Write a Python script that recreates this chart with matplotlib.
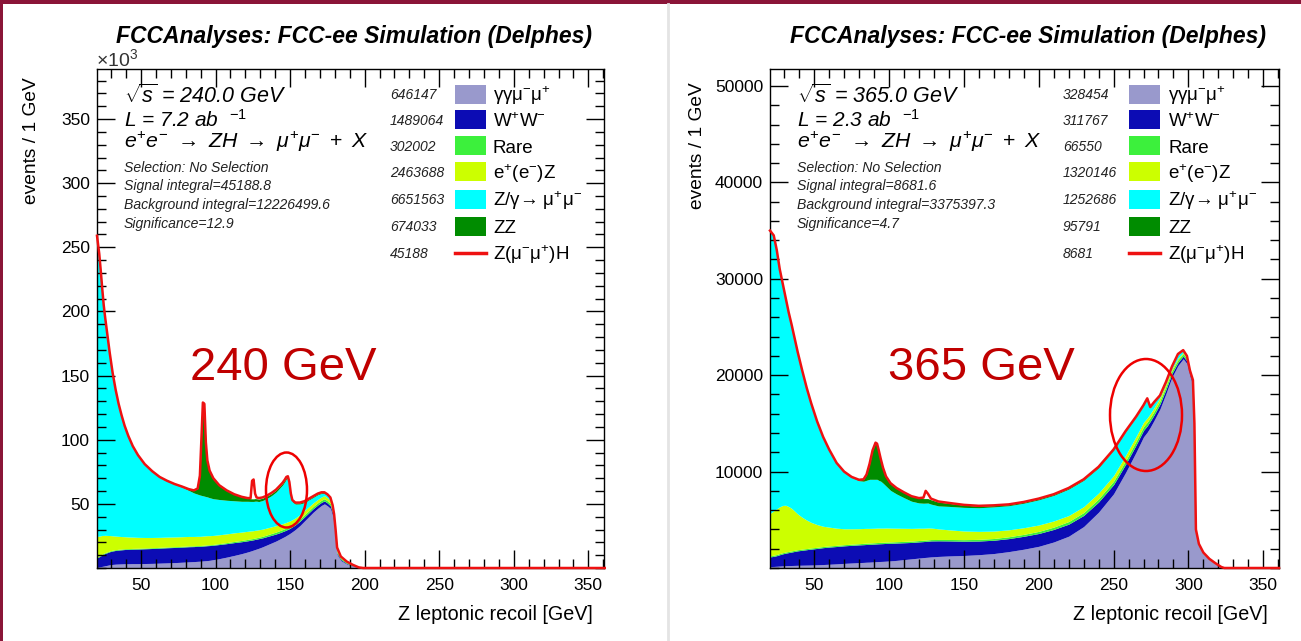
import numpy as np
import matplotlib
matplotlib.use("Agg")
import matplotlib.pyplot as plt
from matplotlib.patches import Rectangle, Ellipse
from matplotlib.lines import Line2D
from matplotlib.ticker import MultipleLocator

plt.rcParams['font.family'] = ['Liberation Sans', 'DejaVu Sans']
plt.rcParams['mathtext.fontset'] = 'custom'
plt.rcParams['mathtext.rm'] = 'Liberation Sans'
plt.rcParams['mathtext.it'] = 'Liberation Sans:italic'
plt.rcParams['mathtext.bf'] = 'Liberation Sans:bold'

W, H = 1301, 641

# ---------------- 240 GeV (events per GeV, in thousands) ----------------
x_240 = [20.5, 22, 23, 24, 25, 26, 27, 29, 31, 33, 35, 37, 39, 41.5, 44.5, 48, 52.5, 57.5, 62.5, 67.5,
         72.5, 77.5, 82, 85.5, 88, 89.5, 90.5, 91.5, 92.5, 93.5, 94.5, 96, 98.5, 102.5, 107.5, 112.5, 117.5,
         121.5, 123.5, 124.5, 125.5, 126.5, 127.5, 129, 131.5, 134.5, 137.5, 140.5, 143, 145, 146.5, 147.5,
         148.5, 149.5, 150.5, 151.5, 153.5, 156.5, 159.5, 162.5, 165.5, 168.5, 171, 173, 175, 177, 178.5,
         179.5, 180.5, 181.5, 184, 188, 192, 196, 199, 361]
gg_240 = [0.5, 0.8, 1.0, 1.3, 1.5, 1.8, 2.0, 2.5, 2.8, 3.0, 3.1, 3.2, 3.3, 3.3, 3.4, 3.4, 3.5, 3.6, 3.8, 4.0,
          4.2, 4.5, 4.8, 5.0, 5.2, 5.3, 5.4, 5.5, 5.6, 5.7, 5.8, 6.0, 6.5, 7.3, 8.5, 9.8, 11.2,
          12.5, 13.2, 13.6, 14.0, 14.4, 14.8, 15.4, 16.5, 18, 19.5, 21, 22.5, 23.7, 24.6, 25.3,
          26, 26.7, 27.5, 28.3, 30, 33, 36.5, 40, 43.5, 46.5, 48.8, 50, 48.5, 46.5, 41,
          34, 23, 10.5, 5.8, 3.0, 1.5, 0.2, 0, 0]
ww_240 = [7.5, 8, 8.5, 9, 9.3, 9.6, 9.8, 10.2, 10.5, 10.7, 10.9, 11, 11.1, 11.2, 11.3, 11.4, 11.5, 11.6, 11.7, 11.8,
          11.8, 11.8, 11.8, 11.7, 11.7, 11.6, 11.6, 11.6, 11.6, 11.6, 11.6, 11.5, 11.3, 11, 10.5, 10, 9.3,
          8.7, 8.4, 8.2, 8.0, 7.9, 7.7, 7.5, 7.0, 6.5, 6.0, 5.5, 5.0, 4.7, 4.5, 4.3,
          4.2, 4.0, 3.9, 3.8, 3.6, 3.4, 3.2, 3.0, 2.8, 2.6, 2.4, 2.3, 2.2, 2.0, 1.9,
          1.8, 1.5, 1.0, 0.8, 0.5, 0.3, 0.1, 0, 0]
rare_240 = [0.6] * 33 + [0.7, 0.8, 0.9, 1.0,
            1.1, 1.1, 1.1, 1.1, 1.1, 1.1, 1.1, 1.2, 1.3, 1.4, 1.5, 1.6, 1.6, 1.6, 1.6,
            1.6, 1.6, 1.6, 1.6, 1.6, 1.7, 1.7, 1.7, 1.7, 1.7, 1.7, 1.7, 1.7, 1.7, 1.6,
            1.5, 1.4, 1.2, 1.0, 0.7, 0.4, 0.1, 0, 0]
eez_240 = [16, 15.5, 15, 14.5, 14, 13.5, 13, 12, 11.2, 10.6, 10.1, 9.7, 9.4, 9.1, 8.8, 8.5, 8.2, 8.0, 7.8, 7.7,
           7.6, 7.5, 7.4, 7.3, 7.2, 7.2, 7.2, 7.2, 7.2, 7.2, 7.2, 7.1, 7.0, 6.9, 6.8, 6.7, 6.5,
           6.3, 6.2, 6.1, 6.0, 6.0, 5.9, 5.8, 5.6, 5.4, 5.2, 5.0, 4.8, 4.6, 4.5, 4.4,
           4.3, 4.2, 4.1, 4.0, 3.8, 3.5, 3.2, 3.0, 2.8, 2.6, 2.5, 2.4, 2.3, 2.2, 2.1,
           2.0, 1.8, 1.5, 1.0, 0.6, 0.3, 0.1, 0, 0]
zg_240 = [234.1, 219.8, 206.6, 192.3, 179.3, 169.2, 160.3, 142.4, 126.6, 113.8, 103, 94.2, 86.3, 78.5, 70.6,
          63.8, 56.9, 51.4, 46.8, 43.6, 41.0, 38.6, 35.9, 33.9, 32.8, 32.2, 31.8, 31.4, 31.0, 30.6, 30.2,
          29.6, 28.6, 27.5, 26.2, 25, 24, 23.4, 23.0, 22.9, 22.8, 22.7, 22.6, 22.0, 22.3, 23.1, 24.3,
          26.1, 28.3, 30.2, 32.2, 33.8, 33.9, 29, 19.5, 14, 10.8, 8.3, 6.3, 5.3, 4.2, 3.7, 2.7,
          1.7, 1.9, 1.7, 1.6, 1.9, 1.6, 1.3, 0.1, 0.1, 0, 0, 0, 0]
zz_240 = [0.3] * 21 + [0.5, 1.0, 2.0, 4.5, 15.1, 43.4, 72.7, 72, 42.3, 28.6, 21.2, 16,
          11.1, 7.7, 5.1, 3.5, 2.5, 2.1, 2.0, 2.0, 2.0, 1.9, 1.9, 1.8, 1.7, 1.6, 1.5, 1.4, 1.3,
          1.2, 1.2, 1.1, 1.1, 1.0, 1.0, 0.9, 0.8, 0.8, 0.7, 0.7, 0.6, 0.6, 0.6, 0.6, 0.6,
          0.5, 0.5, 0.4, 0.3, 0.2, 0.1, 0, 0, 0, 0]
zh_240 = [0] * 38 + [0.5, 14.1, 15.1, 3.9, 1.0, 0.8, 0.6, 0.5, 0.5, 0.4, 0.4, 0.4, 0.4, 0.4, 0.4, 0.4,
          0.4] + [0.3] * 14 + [0.2, 0.1, 0, 0, 0, 0, 0]

# ---------------- 365 GeV (events per GeV) ----------------
x_365 = [20.5, 23, 25, 27, 29, 31, 33, 35, 37, 39, 42, 45, 48, 52, 56, 60, 65, 70, 75, 80,
         83, 85, 87, 89, 91, 92, 93, 94.5, 96, 98, 101, 105, 110, 115, 120, 123, 124.5, 126, 128, 133,
         140, 150, 160, 170, 180, 190, 200, 210, 220, 230, 240, 250, 258, 265, 270, 272.5, 274.5, 277, 281, 285,
         289, 293, 296.5, 299, 301, 303, 304, 305, 307, 310, 314, 318, 322, 324, 360.5]
gg_365 = [150, 160, 180, 200, 220, 240, 250, 260, 270, 280, 290, 300, 310, 330, 360, 390, 430, 480, 520, 560,
          580, 600, 610, 630, 650, 660, 670, 680, 690, 710, 740, 790, 870, 950, 1030, 1080, 1100, 1120, 1150, 1200,
          1250, 1300, 1380, 1500, 1700, 1950, 2250, 2700, 3300, 4300, 5800, 7700, 9900, 12000, 13600, 14100, 14600,
          15300, 16500, 18100, 19800, 21000, 21700, 21200, 19900, 18900, 14550, 3700, 2300, 1450,
          850, 420, 80, 0, 0]
ww_365 = [1000, 1050, 1100, 1180, 1250, 1300, 1350, 1400, 1450, 1500, 1550, 1600, 1650, 1700, 1750, 1780, 1800,
          1820, 1830, 1840, 1840, 1840, 1840, 1840, 1840, 1840, 1840, 1840, 1840, 1840, 1820, 1800, 1750, 1700,
          1680, 1660, 1660, 1660, 1660, 1620, 1560, 1480, 1420, 1380, 1350, 1340, 1330, 1300, 1250, 1150,
          1050, 950, 850, 750, 680, 650, 620, 560, 500, 430, 370, 320, 280, 250, 230, 210, 160, 40, 30, 20,
          10, 5, 0, 0, 0]
rare_365 = [100] + [120] * 19 + [140] * 20 + [150, 160, 170, 180, 190, 200, 220, 240, 270, 300,
            330, 360, 380, 390, 390, 390, 380, 370, 350, 330, 300, 280, 260, 240, 220, 200, 170, 100, 80, 60,
            40, 25, 10, 0, 0]
eez_365 = [4400, 4600, 4750, 4850, 4900, 4850, 4650, 4400, 4050, 3700, 3300, 2950, 2650, 2350, 2100, 1950, 1780,
           1650, 1600, 1560, 1540, 1530, 1520, 1510, 1500, 1500, 1490, 1480, 1470, 1460, 1440, 1400, 1360, 1320,
           1280, 1250, 1240, 1230, 1200, 1100, 1000, 900, 830, 770, 720, 690, 660, 640, 620, 610,
           600, 580, 550, 500, 450, 430, 410, 380, 330, 280, 220, 170, 130, 110, 100, 90, 70, 40, 30, 25,
           15, 8, 2, 0, 0]
zg_365 = [29300, 28520, 26800, 24600, 22960, 21440, 20080, 18970, 17860, 16750, 15190, 13680, 12320, 10650, 9220,
          8010, 6720, 5880, 5330, 4970, 4900, 4990, 5090, 5080, 5070, 5060, 4960, 4860, 4660, 4350,
          3910, 3550, 3170, 2820, 2620, 2590, 2590, 2590, 2480, 2380, 2430, 2450, 2450, 2510, 2500, 2540,
          2610, 2650, 2740, 2730, 2610, 2610, 2420, 1970, 1690, 1940, 600, 510, 140, 80, 140, 360, 160, 140,
          0, 50, 30, 120, 60, 45, 35, 42, 8, 0, 0]
zz_365 = [50] * 19 + [100, 200, 600, 1600, 3000, 3800, 3700, 3200, 2300, 1600, 1000,
          750, 620, 560, 520, 500, 480, 470, 460, 450, 400, 320, 230, 170, 130, 110, 100, 100, 90, 90, 80,
          80, 70, 70, 60, 60, 60, 60, 50, 50, 50, 40, 40, 40, 30, 30, 30, 20, 0, 0, 0, 0, 0, 0, 0, 0]
zh_365 = [0] * 35 + [100, 800, 500, 120, 60, 40] + [30] * 23 + [20, 20, 0] + [0] * 8

names = ["γγμ$^{-}$μ$^{+}$", "W$^{+}$W$^{-}$", "Rare", "e$^{+}$(e$^{-}$)Z",
         "Z/γ→ μ$^{+}$μ$^{-}$", "ZZ", "Z(μ$^{-}$μ$^{+}$)H"]
colors = ["#9999cc", "#0c0cb4", "#3cf03c", "#ccff00", "#00ffff", "#008c00", "#ee1111"]
yields_240 = ["646147", "1489064", "302002", "2463688", "6651563", "674033", "45188"]
yields_365 = ["328454", "311767", "66550", "1320146", "1252686", "95791", "8681"]

fig = plt.figure(figsize=(W / 100, H / 100), dpi=100)
fig.patch.set_facecolor("white")


def fx(px):
    return px / W


def fy(py):
    return 1 - py / H


# page decorations
fig.add_artist(Rectangle((0, fy(4)), 1, 4 / H, transform=fig.transFigure, color="#8a1538", lw=0))
fig.add_artist(Rectangle((0, 0), 3 / W, 1, transform=fig.transFigure, color="#8a1538", lw=0))
fig.add_artist(Line2D([fx(668), fx(668)], [0, fy(4)], transform=fig.transFigure, color="#e4e4e4", lw=2))


def panel(left, bottom_px, width_px, height_px, x, comps, ymax, yticks, yticklabels, ystep):
    ax = fig.add_axes([fx(left), fy(bottom_px), width_px / W, height_px / H])
    x = np.array(x, dtype=float)
    base = np.zeros_like(x)
    for vals, c in zip(comps[:6], colors[:6]):
        top = base + np.array(vals, dtype=float)
        ax.fill_between(x, base, top, color=c, lw=0, zorder=1)
        base = top
    total = base + np.array(comps[6], dtype=float)
    ax.plot(x, total, color=colors[6], lw=1.8, zorder=3, clip_on=False)
    ax.set_xlim(20.5, 360.5)
    ax.set_ylim(0, ymax)
    ax.set_xticks([50, 100, 150, 200, 250, 300, 350])
    ax.set_xticklabels(["50", "100", "150", "200", "250", "300", "350"])
    ax.xaxis.set_minor_locator(MultipleLocator(10))
    ax.set_yticks(yticks)
    ax.set_yticklabels(yticklabels)
    ax.yaxis.set_minor_locator(MultipleLocator(ystep))
    ax.tick_params(which="both", direction="in", top=True, right=True, width=1, labelsize=12.5)
    ax.tick_params(which="major", length=13)
    ax.tick_params(which="minor", length=6.5)
    ax.tick_params(axis="x", pad=7)
    ax.tick_params(axis="y", pad=5)
    for s in ax.spines.values():
        s.set_linewidth(1)
    return ax


ax1 = panel(97, 568, 507, 499, x_240,
            [gg_240, ww_240, rare_240, eez_240, zg_240, zz_240, zh_240],
            389, [50, 100, 150, 200, 250, 300, 350], ["50", "100", "150", "200", "250", "300", "350"], 10)
ax2 = panel(770, 568, 509, 499, x_365,
            [gg_365, ww_365, rare_365, eez_365, zg_365, zz_365, zh_365],
            51760, [10000, 20000, 30000, 40000, 50000], ["10000", "20000", "30000", "40000", "50000"], 2000)

fig.text(fx(96), fy(66), r"$\times$10$^{3}$", fontsize=14, va="baseline", ha="left", color="#333333")


def decorate(title_c, text_x, num_x, box_x, lab_x, ylab_x, ylab_top, xlab_r, energy, lumi, sig, bkg, signif,
             yields, big, big_x, ell):
    fig.text(fx(title_c), fy(36), "FCCAnalyses: FCC-ee Simulation (Delphes)", ha="center", va="center",
             fontsize=16.5, fontweight="bold", fontstyle="italic")
    fig.text(fx(ylab_x), fy(ylab_top), "events / 1 GeV", rotation=90, ha="center", va="top", fontsize=13.8)
    fig.text(fx(xlab_r), fy(615), "Z leptonic recoil [GeV]", ha="right", va="center", fontsize=14.2)
    fig.text(fx(text_x), fy(103), r"$\sqrt{s}$ = " + energy + " GeV", fontsize=15.5, fontstyle="italic",
             va="baseline")
    fig.text(fx(text_x), fy(127), "L = " + lumi + " ab  " + r"$^{-1}$", fontsize=15, fontstyle="italic",
             va="baseline")
    fig.text(fx(text_x), fy(148),
             r"$e^{+}e^{-}\ \rightarrow\ ZH\ \rightarrow\ \mu^{+}\mu^{-}\ +\ X$", fontsize=15.3,
             va="baseline")
    small = ["Selection: No Selection", "Signal integral=" + sig, "Background integral=" + bkg,
             "Significance=" + signif]
    for t, yb in zip(small, [172, 190, 209, 228]):
        fig.text(fx(text_x), fy(yb), t, fontsize=10.1, fontstyle="italic", va="baseline", color="#222222")
    rows = [94, 120, 146, 172, 199, 226, 253]
    for i, yr in enumerate(rows):
        fig.text(fx(num_x), fy(yr + 5), yields[i], fontsize=10, fontstyle="italic", va="baseline",
                 color="#222222")
        if i < 6:
            fig.add_artist(Rectangle((fx(box_x), fy(yr + 9.5)), 31 / W, 19 / H, transform=fig.transFigure,
                                     color=colors[i], lw=0))
        else:
            fig.add_artist(Line2D([fx(box_x), fx(box_x + 31)], [fy(yr), fy(yr)], transform=fig.transFigure,
                                  color=colors[6], lw=2.5))
        fig.text(fx(lab_x), fy(yr + 7), names[i], fontsize=13.5, va="baseline")
    fig.text(fx(big_x), fy(380), big, fontsize=34, color="#c00000", va="baseline", ha="left")
    cx, cy, ew, eh = ell
    fig.add_artist(Ellipse((fx(cx), fy(cy)), ew / W, eh / H, transform=fig.transFigure, fill=False,
                           edgecolor="#ee0000", lw=1.8))


decorate(353.5, 124, 390, 455, 493, 32, 77, 593, "240.0", "7.2", "45188.8", "12226499.6", "12.9",
         yields_240, "240 GeV", 190, (286.5, 490, 41, 75))
decorate(1028, 797, 1063, 1129, 1168, 698, 82, 1268, "365.0", "2.3", "8681.6", "3375397.3", "4.7",
         yields_365, "365 GeV", 888, (1146, 415, 72, 112))

fig.savefig("out.png", dpi=100)
